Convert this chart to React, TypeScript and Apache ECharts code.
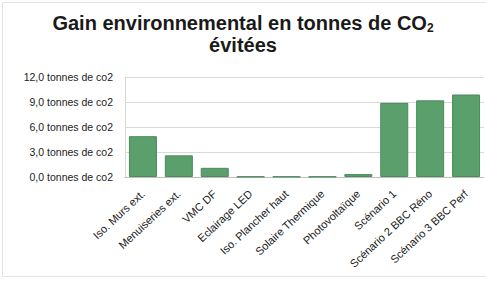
import React, { useEffect, useRef } from "react";
import * as echarts from "echarts";

const categories = [
  "Iso. Murs ext.",
  "Menuiseries ext.",
  "VMC DF",
  "Eclairage LED",
  "Iso. Plancher haut",
  "Solaire Thermique",
  "Photovoltaïque",
  "Scénario 1",
  "Scénario 2 BBC Réno",
  "Scénario 3 BBC Perf",
];
const values = [4.9, 2.6, 1.1, 0.05, 0.05, 0.05, 0.35, 8.9, 9.2, 9.9];
const yTicks = [0, 3, 6, 9, 12];

export default function App() {
  const ref = useRef<HTMLDivElement>(null);
  useEffect(() => {
    if (!ref.current) return;
    const chart = echarts.init(ref.current, null, { renderer: "svg" });
    chart.setOption({
      animation: false,
      backgroundColor: "#ffffff",
      title: {
        text: "Gain environnemental en tonnes de CO{s|2}\névitées",
        left: "center",
        top: 7,
        textStyle: {
          fontFamily: "Liberation Sans, Arial, sans-serif",
          fontSize: 20,
          fontWeight: "bold",
          color: "#1a1a1a",
          lineHeight: 22,
          rich: {
            s: {
              fontFamily: "Liberation Sans, Arial, sans-serif",
              fontSize: 12,
              fontWeight: "bold",
              color: "#1a1a1a",
              verticalAlign: "bottom",
              padding: [8, 0, 0, 0],
            },
          },
        },
      },
      graphic: [
        {
          type: "rect",
          shape: { x: 2.5, y: 2.5, width: 490, height: 274 },
          style: { fill: "none", stroke: "#e4e4e4", lineWidth: 1 },
          silent: true,
        },
      ],
      grid: { left: 125, right: 2, top: 77, bottom: 104, containLabel: false },
      xAxis: {
        type: "category",
        data: categories,
        axisLine: { lineStyle: { color: "#bfbfbf" } },
        axisTick: { show: false },
        axisLabel: {
          rotate: 43,
          interval: 0,
          fontSize: 11,
          fontFamily: "Liberation Sans, Arial, sans-serif",
          color: "#222222",
          margin: 15,
        },
      },
      yAxis: {
        type: "value",
        min: yTicks[0],
        max: yTicks[yTicks.length - 1],
        interval: 3,
        axisLine: { show: true, lineStyle: { color: "#d9d9d9" } },
        axisTick: { show: false },
        splitLine: { lineStyle: { color: "#d9d9d9" } },
        axisLabel: {
          fontSize: 10.5,
          fontFamily: "Liberation Sans, Arial, sans-serif",
          color: "#222222",
          margin: 12,
          formatter: (v: number) => v.toFixed(1).replace(".", ",") + " tonnes de co2",
        },
      },
      series: [
        {
          type: "bar",
          data: values,
          barCategoryGap: "22%",
          itemStyle: { color: "#5a9f6c", borderColor: "#4b8b5d", borderWidth: 1 },
        },
      ],
    });
    return () => chart.dispose();
  }, []);
  return (
    <div
      ref={ref}
      style={{ position: "fixed", left: 0, top: 0, width: 486, height: 281 }}
    />
  );
}
